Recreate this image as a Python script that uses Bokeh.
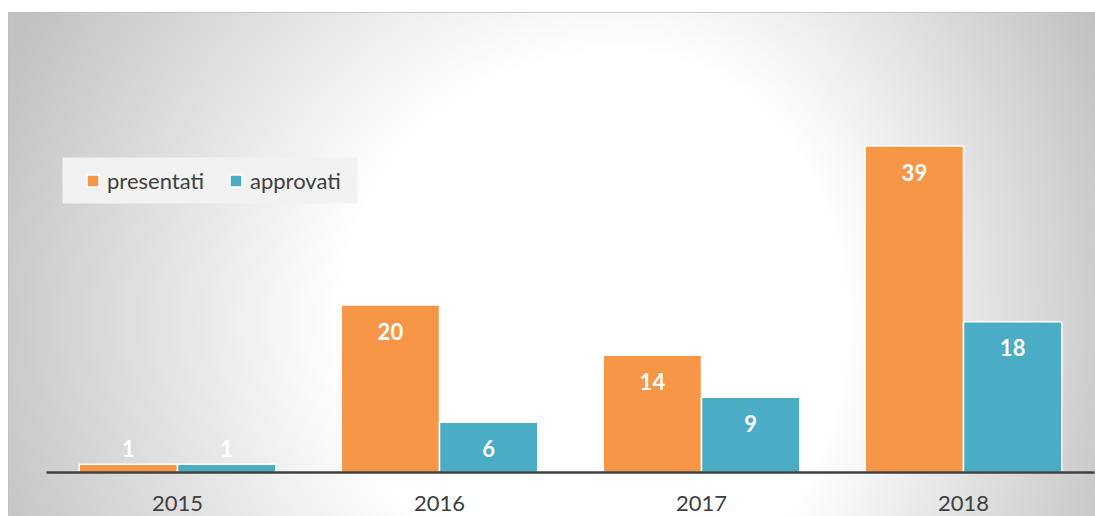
import numpy as np
from bokeh.plotting import figure
from bokeh.models import (ColumnDataSource, Range1d, LinearAxis, FixedTicker,
                          Legend, LegendItem, BoxAnnotation)
from bokeh.core.properties import value
from bokeh.embed import file_html
from bokeh.resources import INLINE

# ---- data ----
years = ["2015", "2016", "2017", "2018"]
presentati = [1, 20, 14, 39]
approvati = [1, 6, 9, 18]
series_names = ["presentati", "approvati"]
series_colors = ["#F79646", "#4BACC6"]

# ---- geometry (page pixels) ----
W, H = 1095, 516
FL, FT = 8, 12                 # frame left / top on the page
FW, FH = W - FL, H - FT        # frame size
AXIS_LEFT = 46                 # page x where category 0 starts
CAT_PX = 262.0                 # px per category
AXIS_Y = 472                   # page y of the baseline
PPU = 8.37                     # px per unit on y

x0 = -(AXIS_LEFT - FL) / CAT_PX
x1 = x0 + FW / CAT_PX
y1 = (AXIS_Y - FT) / PPU
y0 = -(FT + FH - AXIS_Y) / PPU

def px2x(px):
    return x0 + (px - FL) / CAT_PX

def py2y(py):
    return y1 - (py - FT) / PPU

p = figure(width=W, height=H, output_backend="svg", toolbar_location=None,
           x_range=Range1d(x0, x1), y_range=Range1d(y0, y1),
           x_axis_location=None, y_axis_location=None,
           min_border_left=FL, min_border_top=FT, min_border_right=0, min_border_bottom=0)
p.grid.visible = False
p.outline_line_color = "#bfbfbf"
p.outline_line_width = 1
p.background_fill_color = "#ffffff"
p.border_fill_color = "#ffffff"

# ---- radial gray gradient background ----
nx, ny = FW // 2 + 1, FH // 2
gx = FL + (np.arange(nx) + 0.5) * (FW / nx)
gy = FT + (np.arange(ny) + 0.5) * (FH / ny)
GX, GY = np.meshgrid(gx, gy)
cx, cy = 620.0, 320.0
dx = np.where(GX < cx, GX - cx, (GX - cx) * 1.25)
dy = np.where(GY < cy, (GY - cy) * 1.05, GY - cy)
dist = np.hypot(dx, dy)
t = np.clip((dist - 285.0) / 390.0, 0, 1)
gray = (255 - 62 * t).astype(np.uint8)[::-1]
img = np.empty((ny, nx), dtype=np.uint32)
view = img.view(dtype=np.uint8).reshape((ny, nx, 4))
view[:, :, 0] = gray
view[:, :, 1] = gray
view[:, :, 2] = gray
view[:, :, 3] = 255
p.image_rgba(image=[img], x=x0, y=y0, dw=x1 - x0, dh=y1 - y0)

# ---- bars ----
centers = np.arange(len(years)) + 0.5
bw = 0.375
offs = [-bw / 2, bw / 2]
renderers = []
for vals, off, col in zip([presentati, approvati], offs, series_colors):
    v = np.array(vals, dtype=float)
    src = ColumnDataSource(dict(
        x=centers + off, top=v,
        lab=[str(int(a)) for a in v],
        yo=[26 if a > 3 else -16 for a in v],
    ))
    r = p.vbar(x="x", top="top", bottom=0, width=bw, source=src,
               fill_color=col, line_color="white", line_width=1.5)
    renderers.append(r)
    p.text(x="x", y="top", text="lab", y_offset="yo", source=src,
           text_color="white", text_font=value("Lato"), text_font_style="bold",
           text_font_size="22px", text_align="center", text_baseline="middle")

# ---- x axis at baseline ----
ax = LinearAxis(fixed_location=0)
ax.ticker = FixedTicker(ticks=list(centers))
ax.major_label_overrides = {float(c): y for c, y in zip(centers, years)}
ax.bounds = (0, len(years))
ax.axis_line_color = "#404040"
ax.axis_line_width = 2.5
ax.major_tick_line_color = None
ax.minor_tick_line_color = None
ax.major_label_text_font = "Lato"
ax.major_label_text_font_size = "22px"
ax.major_label_text_color = "#404040"
ax.major_label_standoff = 17
p.add_layout(ax, "below")

# ---- legend ----
box = BoxAnnotation(left=px2x(62), right=px2x(357), top=py2y(157), bottom=py2y(203),
                    fill_color="#f2f2f2", fill_alpha=1.0, line_color=None)
p.add_layout(box)

legend = Legend(items=[LegendItem(label=n, renderers=[r]) for n, r in zip(series_names, renderers)],
                orientation="horizontal", location=(77, FT + FH - 194),
                padding=0, margin=0, spacing=24,
                background_fill_alpha=0, border_line_color=None,
                glyph_width=15, glyph_height=15, label_standoff=7,
                label_text_font="Lato", label_text_font_size="22px",
                label_text_color="#404040")
p.add_layout(legend, "center")

open("out.html", "w").write(file_html(p, INLINE))
